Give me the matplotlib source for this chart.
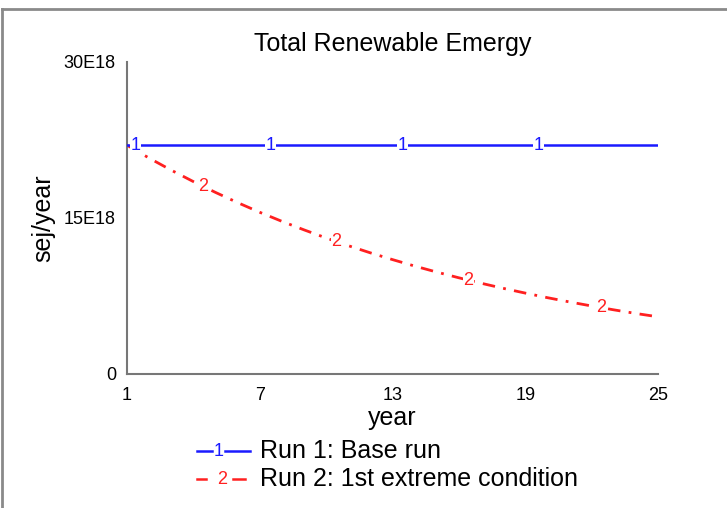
import numpy as np
import matplotlib.pyplot as plt
from matplotlib.lines import Line2D

plt.rcParams['font.family'] = ['Liberation Sans', 'DejaVu Sans']

years = np.arange(1, 26)
run1 = [22.0] * 25
run2 = [22.0, 20.76, 19.6, 18.5, 17.46, 16.48, 15.55, 14.68, 13.86, 13.08,
        12.34, 11.65, 11.0, 10.38, 9.8, 9.25, 8.73, 8.24, 7.78, 7.34,
        6.93, 6.54, 6.17, 5.82, 5.5]
run1_marks = [1.4, 7.5, 13.45, 19.6]
run2_marks = [4.44, 10.46, 16.44, 22.42]
xticks = [1, 7, 13, 19, 25]
yticks = [0, 15, 30]
ytick_labels = ['0', '15E18', '30E18']

W, H = 727, 508
fig = plt.figure(figsize=(W / 100, H / 100), dpi=100)
ax = fig.add_axes([127 / W, 1 - 374 / H, 531 / W, 312 / H])

red_dash = (0, (4.5, 3, 1, 3))
ax.plot(years, run2, color='#ff2020', lw=2, linestyle=red_dash, zorder=2)
ax.plot(years, run1, color='#1a1aff', lw=1.8, zorder=3)

for xm in run1_marks:
    ax.text(xm, np.interp(xm, years, run1), '1', color='#1a1aff', fontsize=13,
            ha='center', va='center', zorder=4,
            bbox=dict(facecolor='white', edgecolor='none', pad=0.3))
for xm in run2_marks:
    ax.text(xm, np.interp(xm, years, run2), '2', color='#ff2020', fontsize=13,
            ha='center', va='center', zorder=4,
            bbox=dict(facecolor='white', edgecolor='none', pad=0.3))

ax.set_xlim(1, 25)
ax.set_ylim(0, 30)
ax.set_xticks(xticks)
ax.set_yticks(yticks)
ax.set_yticklabels(ytick_labels)
ax.tick_params(length=0, labelsize=13)
ax.tick_params(axis='x', pad=9)
ax.tick_params(axis='y', pad=8)
for s in ['top', 'right']:
    ax.spines[s].set_visible(False)
for s in ['left', 'bottom']:
    ax.spines[s].set_color('#777777')
    ax.spines[s].set_linewidth(1.5)

ax.set_title('Total Renewable Emergy', fontsize=18, pad=8)
ax.set_xlabel('year', fontsize=18, labelpad=2)
ax.set_ylabel('sej/year', fontsize=18, labelpad=6)

# legend, drawn by hand in pixel coords
def px(x, y):
    return x / W, 1 - y / H

for (yy, col, txt, mark, segs) in [
        (451, '#1a1aff', 'Run 1: Base run', '1', [(197, 212), (225, 250)]),
        (479, '#ff2020', 'Run 2: 1st extreme condition', '2', [(197, 206), (233, 245)])]:
    for a, b in segs:
        x0, y0 = px(a, yy)
        x1, _ = px(b, yy)
        fig.add_artist(Line2D([x0, x1], [y0, y0], color=col, lw=1.8))
    mx, my = px(219 if mark == '1' else 222, yy)
    fig.text(mx, my, mark, color=col, fontsize=13, ha='center', va='center')
    tx, ty = px(260, yy)
    fig.text(tx, ty, txt, fontsize=18, ha='left', va='center')

# outer frame lines (left and top)
fig.add_artist(Line2D([2 / W, 2 / W], [0, 1 - 9 / H], color='#8a8a8a', lw=2))
fig.add_artist(Line2D([2 / W, 1], [1 - 9 / H, 1 - 9 / H], color='#8a8a8a', lw=2))

fig.savefig('out.png', dpi=100)
